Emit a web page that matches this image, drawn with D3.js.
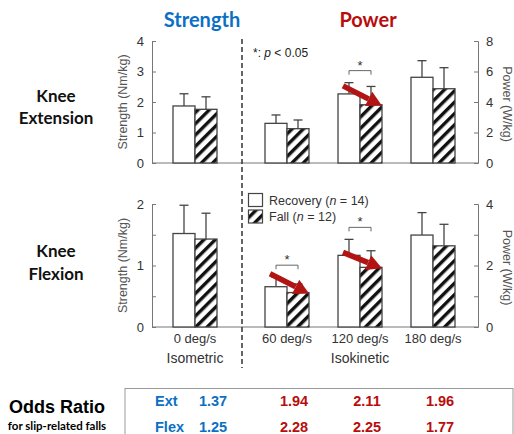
<!DOCTYPE html>
<html>
<head>
<meta charset="utf-8">
<script src="https://cdn.jsdelivr.net/npm/d3@7"></script>
<style>
  body { margin: 0; background: #fff; }
  svg { display: block; }
</style>
</head>
<body>
<div id="chart"></div>
<script>
// --- data ---
var strengthCats = ["0 deg/s"];
var powerCats = ["60 deg/s", "120 deg/s", "180 deg/s"];
var groups = ["Recovery", "Fall"];

var extStrengthMean = [1.87, 1.76];   // recovery, fall
var extStrengthSD = [0.40, 0.41];
var extPowerRecovery = [2.60, 4.53, 5.62];
var extPowerRecoverySD = [0.55, 0.74, 1.09];
var extPowerFall = [2.25, 3.82, 4.87];
var extPowerFallSD = [0.57, 1.20, 1.38];

var flexStrengthMean = [1.52, 1.43];
var flexStrengthSD = [0.46, 0.42];
var flexPowerRecovery = [1.31, 2.33, 2.99];
var flexPowerRecoverySD = [0.31, 0.52, 0.73];
var flexPowerFall = [1.12, 1.94, 2.64];
var flexPowerFallSD = [0.28, 0.54, 0.70];

var extSig = ["120 deg/s"];
var flexSig = ["60 deg/s", "120 deg/s"];

var oddsExt = [1.37, 1.94, 2.11, 1.96];
var oddsFlex = [1.25, 2.28, 2.25, 1.77];

var blue = "#0b70c4", red = "#b80d0d", arrowRed = "#b21414";

var W = 514, H = 434;
var svg = d3.select("#chart").append("svg").attr("width", W).attr("height", H);

var defs = svg.append("defs");
var pat = defs.append("pattern")
    .attr("id", "hatch")
    .attr("patternUnits", "userSpaceOnUse")
    .attr("width", 8).attr("height", 8)
    .attr("patternTransform", "rotate(45)");
pat.append("rect").attr("width", 8).attr("height", 8).attr("fill", "#fff");
pat.append("rect").attr("x", 0).attr("width", 3.4).attr("height", 8).attr("fill", "#111");

var xS = d3.scaleBand().domain(strengthCats).range([152, 238]);
var xP = d3.scaleBand().domain(powerCats).range([250.5, 469.5]);
var barW = 22;
var axL = 152, axR = 478;

function panel(cfg) {
    var yL = d3.scaleLinear().domain([0, cfg.lmax]).range([cfg.y0, cfg.y1]);
    var yR = d3.scaleLinear().domain([0, cfg.rmax]).range([cfg.y0, cfg.y1]);
    var g = svg.append("g");

    // axes
    var left = g.append("g").attr("transform", "translate(" + axL + ",0)")
        .call(d3.axisLeft(yL).tickValues(cfg.ltickVals).tickSize(-4).tickPadding(8)
            .tickFormat(function(d) { return Number.isInteger(d) ? d : ""; }));
    var right = g.append("g").attr("transform", "translate(" + axR + ",0)")
        .call(d3.axisRight(yR).tickValues(cfg.rtickVals).tickSize(-4).tickPadding(8)
            .tickFormat(function(d) { return cfg.rlabels.indexOf(d) >= 0 ? d : ""; }));
    [left, right].forEach(function(a) {
        a.select(".domain").attr("stroke", "#777");
        a.selectAll(".tick line").attr("stroke", "#777");
        a.selectAll("text").attr("fill", "#333").style("font-family", "Liberation Sans, Arial")
            .style("font-size", "13px");
    });
    g.append("line").attr("x1", axL).attr("x2", axR)
        .attr("y1", yL(0)).attr("y2", yL(0)).attr("stroke", "#777");

    var yMid = (cfg.y0 + cfg.y1) / 2;
    g.append("text").attr("transform", "translate(127," + yMid + ") rotate(-90)")
        .attr("text-anchor", "middle").attr("fill", "#555")
        .style("font-family", "Liberation Sans, Arial").style("font-size", "12.5px")
        .text("Strength (Nm/kg)");
    g.append("text").attr("transform", "translate(503," + (yMid + 2) + ") rotate(90)")
        .attr("text-anchor", "middle").attr("fill", "#555")
        .style("font-family", "Liberation Sans, Arial").style("font-size", "12.5px")
        .text("Power (W/kg)");

    // bars
    var bars = [];
    strengthCats.forEach(function(c, i) {
        var cx = xS(c) + xS.bandwidth() / 2;
        bars.push({cat: c, cx: cx, grp: 0, v: cfg.sMean[0], sd: cfg.sSD[0], y: yL});
        bars.push({cat: c, cx: cx, grp: 1, v: cfg.sMean[1], sd: cfg.sSD[1], y: yL});
    });
    powerCats.forEach(function(c, i) {
        var cx = xP(c) + xP.bandwidth() / 2;
        bars.push({cat: c, cx: cx, grp: 0, v: cfg.pRec[i], sd: cfg.pRecSD[i], y: yR});
        bars.push({cat: c, cx: cx, grp: 1, v: cfg.pFall[i], sd: cfg.pFallSD[i], y: yR});
    });
    bars.forEach(function(b) { b.x = b.grp === 0 ? b.cx - barW : b.cx; });

    var bg = g.append("g");
    bg.selectAll(".err").data(bars).enter().append("g").each(function(b) {
        var s = d3.select(this), mx = b.x + barW / 2;
        s.append("line").attr("x1", mx).attr("x2", mx)
            .attr("y1", b.y(b.v)).attr("y2", b.y(b.v + b.sd))
            .attr("stroke", "#444").attr("stroke-width", 1.3);
        s.append("line").attr("x1", mx - 4.5).attr("x2", mx + 4.5)
            .attr("y1", b.y(b.v + b.sd)).attr("y2", b.y(b.v + b.sd))
            .attr("stroke", "#444").attr("stroke-width", 1.3);
    });
    bg.selectAll("rect").data(bars).enter().append("rect")
        .attr("x", function(b) { return b.x; })
        .attr("y", function(b) { return b.y(b.v); })
        .attr("width", barW)
        .attr("height", function(b) { return b.y(0) - b.y(b.v); })
        .attr("fill", function(b) { return b.grp === 0 ? "#fff" : "url(#hatch)"; })
        .attr("stroke", "#444").attr("stroke-width", 1.3);

    // significance brackets + arrows
    cfg.sig.forEach(function(c) {
        var i = powerCats.indexOf(c);
        var rec = bars.filter(function(b) { return b.cat === c && b.grp === 0; })[0];
        var fall = bars.filter(function(b) { return b.cat === c && b.grp === 1; })[0];
        var topY = Math.min(rec.y(rec.v + rec.sd), fall.y(fall.v + fall.sd));
        var by = topY - 12;
        var x1 = rec.cx - 11, x2 = rec.cx + 11;
        g.append("path")
            .attr("d", "M" + x1 + "," + (by + 4) + "V" + by + "H" + x2 + "V" + (by + 4))
            .attr("fill", "none").attr("stroke", "#666").attr("stroke-width", 1);
        g.append("text").attr("x", rec.cx).attr("y", by - 1).attr("text-anchor", "middle")
            .attr("fill", "#333").style("font-family", "Liberation Sans, Arial").style("font-size", "13px")
            .text("*");

        // arrow from recovery top to fall top
        var sx = rec.x + 5, sy = rec.y(rec.v) - cfg.arrowLift[i];
        var ex = fall.x + barW, ey = fall.y(fall.v) + 1;
        var ang = Math.atan2(ey - sy, ex - sx);
        var hl = 15, hw = 8;
        var bx = ex - hl * Math.cos(ang), byy = ey - hl * Math.sin(ang);
        var px = -Math.sin(ang), py = Math.cos(ang);
        g.append("line").attr("x1", sx).attr("y1", sy).attr("x2", bx).attr("y2", byy)
            .attr("stroke", arrowRed).attr("stroke-width", 5.5);
        g.append("path")
            .attr("d", "M" + ex + "," + ey +
                "L" + (bx + px * hw) + "," + (byy + py * hw) +
                "L" + (bx - px * hw) + "," + (byy - py * hw) + "Z")
            .attr("fill", arrowRed);
    });
    return bars;
}

panel({
    y0: 163, y1: 41, lmax: 4, rmax: 8,
    ltickVals: [0, 1, 2, 3, 4], rtickVals: [0, 2, 4, 6, 8], rlabels: [0, 2, 4, 6, 8],
    sMean: extStrengthMean, sSD: extStrengthSD,
    pRec: extPowerRecovery, pRecSD: extPowerRecoverySD,
    pFall: extPowerFall, pFallSD: extPowerFallSD,
    sig: extSig, arrowLift: [0, 8, 0]
});
panel({
    y0: 327, y1: 204, lmax: 2, rmax: 4,
    ltickVals: [0, 0.5, 1, 1.5, 2], rtickVals: [0, 1, 2, 3, 4], rlabels: [0, 2, 4],
    sMean: flexStrengthMean, sSD: flexStrengthSD,
    pRec: flexPowerRecovery, pRecSD: flexPowerRecoverySD,
    pFall: flexPowerFall, pFallSD: flexPowerFallSD,
    sig: flexSig, arrowLift: [13, 3, 0]
});

// dashed divider
svg.append("line").attr("x1", 242).attr("x2", 242).attr("y1", 39).attr("y2", 368)
    .attr("stroke", "#333").attr("stroke-width", 1.5).attr("stroke-dasharray", "5,3");

// x labels
var xl = svg.append("g").style("font-family", "Liberation Sans, Arial").attr("fill", "#333");
strengthCats.forEach(function(c) {
    xl.append("text").attr("x", xS(c) + xS.bandwidth() / 2).attr("y", 343)
        .attr("text-anchor", "middle").style("font-size", "13px").text(c);
});
powerCats.forEach(function(c) {
    xl.append("text").attr("x", xP(c) + xP.bandwidth() / 2).attr("y", 343)
        .attr("text-anchor", "middle").style("font-size", "13px").text(c);
});
xl.append("text").attr("x", 195).attr("y", 363).attr("text-anchor", "middle")
    .style("font-size", "14px").text("Isometric");
xl.append("text").attr("x", 360).attr("y", 363).attr("text-anchor", "middle")
    .style("font-size", "14px").text("Isokinetic");

// p note
var pn = svg.append("text").attr("x", 253).attr("y", 57).attr("fill", "#222")
    .style("font-family", "Liberation Sans, Arial").style("font-size", "12px");
pn.append("tspan").text("*: ");
pn.append("tspan").style("font-style", "italic").text("p");
pn.append("tspan").text(" < 0.05");

// legend
var lg = svg.append("g").style("font-family", "Liberation Sans, Arial").style("font-size", "12.5px");
groups.forEach(function(gname, i) {
    var y = 193.5 + i * 16.5;
    lg.append("rect").attr("x", 248.5).attr("y", y).attr("width", 14).attr("height", 13)
        .attr("fill", i === 0 ? "#fff" : "url(#hatch)").attr("stroke", "#444").attr("stroke-width", 1.2);
    var t = lg.append("text").attr("x", 269).attr("y", y + 11).attr("fill", "#333");
    t.append("tspan").text(gname + " (");
    t.append("tspan").style("font-style", "italic").text("n");
    t.append("tspan").text(" = " + (i === 0 ? 14 : 12) + ")");
});

// titles
var tf = "Lato, 'Open Sans', sans-serif";
svg.append("text").attr("x", 202).attr("y", 27).attr("text-anchor", "middle")
    .attr("fill", blue).style("font-family", tf).style("font-weight", "bold").style("font-size", "20px")
    .text("Strength");
svg.append("text").attr("x", 368).attr("y", 27).attr("text-anchor", "middle")
    .attr("fill", red).style("font-family", tf).style("font-weight", "bold").style("font-size", "20px")
    .text("Power");

var rowLab = [["Knee", "Extension", 102, 124], ["Knee", "Flexion", 257, 280]];
rowLab.forEach(function(r) {
    [0, 1].forEach(function(k) {
        svg.append("text").attr("x", 56).attr("y", r[2 + k]).attr("text-anchor", "middle")
            .attr("fill", "#111").style("font-family", tf).style("font-weight", "bold")
            .style("font-size", "17px").text(r[k]);
    });
});

// odds ratio table
svg.append("rect").attr("x", 125).attr("y", 388.5).attr("width", 388).attr("height", 60)
    .attr("fill", "none").attr("stroke", "#999").attr("stroke-width", 1);
svg.append("text").attr("x", 57).attr("y", 413).attr("text-anchor", "middle")
    .attr("fill", "#000").style("font-family", "Liberation Sans, Arial").style("font-weight", "bold")
    .style("font-size", "18px").text("Odds Ratio");
svg.append("text").attr("x", 57).attr("y", 430).attr("text-anchor", "middle")
    .attr("fill", "#000").style("font-family", tf).style("font-weight", "bold")
    .style("font-size", "11.5px").text("for slip-related falls");

var od = svg.append("g").style("font-family", "Liberation Sans, Arial").style("font-weight", "bold")
    .style("font-size", "14.5px");
[["Ext", oddsExt, 406], ["Flex", oddsFlex, 432]].forEach(function(r) {
    od.append("text").attr("x", 155).attr("y", r[2]).attr("fill", blue).text(r[0]);
    od.append("text").attr("x", xS(strengthCats[0]) + xS.bandwidth() / 2 + 18).attr("y", r[2])
        .attr("text-anchor", "middle").attr("fill", blue).text(r[1][0].toFixed(2));
    powerCats.forEach(function(c, i) {
        od.append("text").attr("x", xP(c) + xP.bandwidth() / 2 + 7).attr("y", r[2])
            .attr("text-anchor", "middle").attr("fill", red).text(r[1][i + 1].toFixed(2));
    });
});
</script>
</body>
</html>
